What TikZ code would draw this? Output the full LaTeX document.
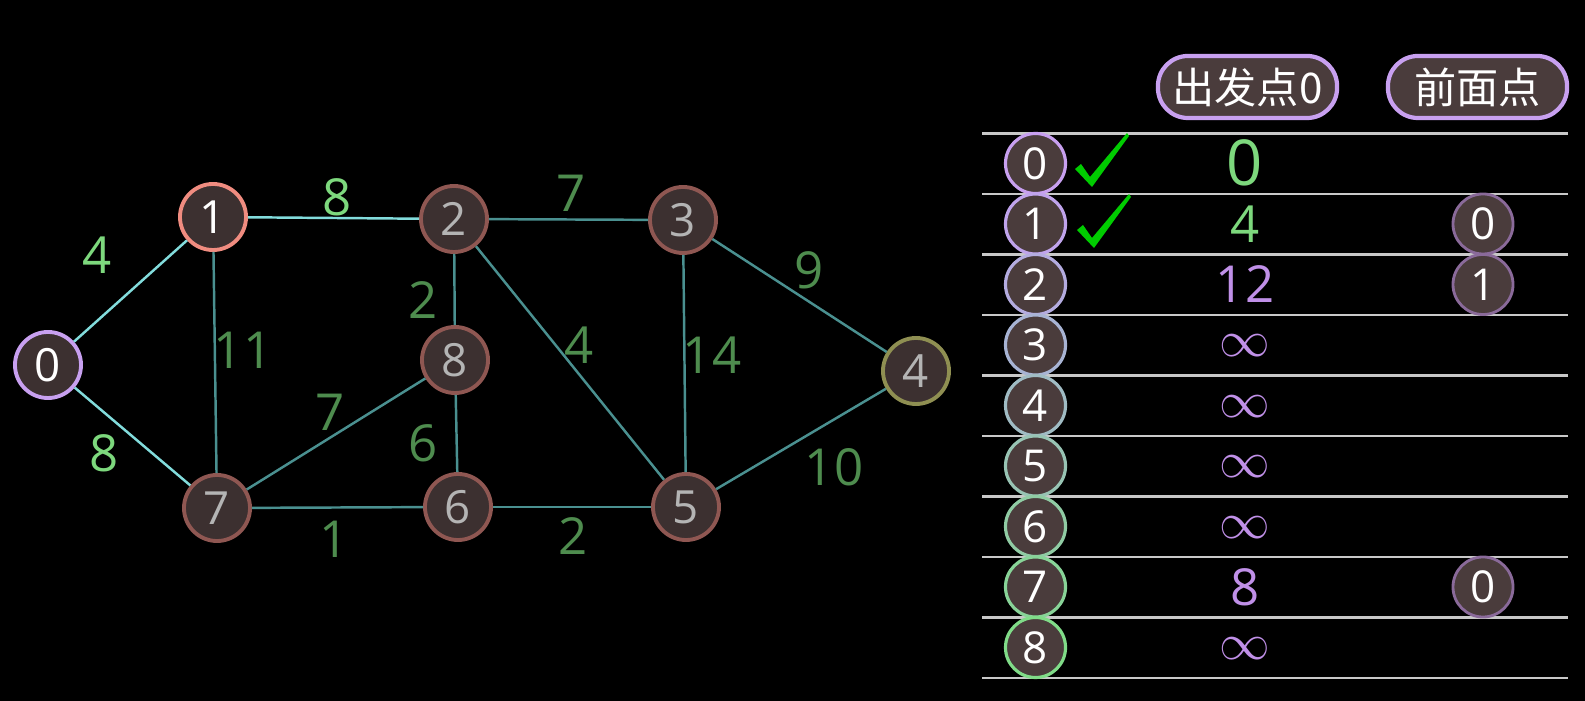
\documentclass[tikz,border=0pt]{standalone}
\usepackage{fontspec}
\setmainfont{Open Sans}
\newfontfamily\cjk{Noto Sans CJK SC}

\definecolor{nodefill}{HTML}{3C3030}
\definecolor{rowfill}{HTML}{4A3C3C}
\definecolor{nodeedge}{HTML}{8F5752}
\definecolor{startedge}{HTML}{C8A0F0}
\definecolor{curedge}{HTML}{F08C80}
\definecolor{faredge}{HTML}{8F8F52}
\definecolor{greytext}{HTML}{B4B4B4}
\definecolor{edgedim}{HTML}{4A9090}
\definecolor{edgelit}{HTML}{82DCDC}
\definecolor{labdim}{HTML}{4E8C4E}
\definecolor{lablit}{HTML}{7DD87D}
\definecolor{rule}{HTML}{C8C8C8}
\definecolor{tick}{HTML}{00CC00}
\definecolor{distpurple}{HTML}{C090E8}
\definecolor{prededge}{HTML}{8A6A9A}

\begin{document}
\begin{tikzpicture}[x=0.01cm,y=-0.01cm,
  vertex/.style={circle,draw=nodeedge,fill=nodefill,line width=1.1pt,minimum size=0.66cm,
    inner sep=0pt,text=greytext,font=\fontsize{13}{13}\selectfont},
  edge/.style={draw=edgedim,line width=0.7pt},
  edgelitstyle/.style={draw=edgelit,line width=0.7pt},
  wlab/.style={text=labdim,font=\fontsize{14.5}{14.5}\selectfont},
  wlablit/.style={wlab,text=lablit},
  rowid/.style={circle,fill=rowfill,line width=0.9pt,minimum size=0.6cm,inner sep=0pt,
    text=white,font=\fontsize{12.5}{12.5}\selectfont},
  dist/.style={text=distpurple,inner sep=1pt,font=\fontsize{14.5}{14.5}\selectfont},
  distlit/.style={text=lablit,inner sep=1pt,font=\fontsize{14.5}{14.5}\selectfont},
  inftext/.style={text=distpurple,inner sep=0pt,font=\fontsize{14.5}{14.5}\selectfont},
  pred/.style={circle,draw=prededge,fill=rowfill,line width=0.8pt,minimum size=0.6cm,
    inner sep=0pt,text=white,font=\fontsize{12.5}{12.5}\selectfont},
  pill/.style={draw=startedge,fill=rowfill,line width=1.2pt,rounded corners=0.3cm,
    minimum width=1.79cm,minimum height=0.62cm,inner sep=0pt,text=white,
    font=\cjk\fontsize{12}{12}\selectfont},
  tablerule/.style={draw=rule,line width=0.8pt}]

\fill[black] (0,0) rectangle (1585,701);

% graph
\node[vertex,draw=startedge,text=white] (v0) at (48,365) {0};
\node[vertex,draw=curedge,text=white] (v1) at (213,217) {1};
\node[vertex] (v2) at (454,219) {2};
\node[vertex] (v3) at (683,220) {3};
\node[vertex,draw=faredge] (v4) at (916,371) {4};
\node[vertex] (v5) at (686,507) {5};
\node[vertex] (v6) at (458,507) {6};
\node[vertex] (v7) at (217,508) {7};
\node[vertex] (v8) at (455,360) {8};

\draw[edgelitstyle] (v0) -- (v1);
\draw[edgelitstyle] (v0) -- (v7);
\draw[edgelitstyle] (v1) -- (v2);
\draw[edge] (v1) -- (v7);
\draw[edge] (v2) -- (v3);
\draw[edge] (v2) -- (v8);
\draw[edge] (v2) -- (v5);
\draw[edge] (v3) -- (v5);
\draw[edge] (v3) -- (v4);
\draw[edge] (v4) -- (v5);
\draw[edge] (v7) -- (v8);
\draw[edge] (v8) -- (v6);
\draw[edge] (v7) -- (v6);
\draw[edge] (v6) -- (v5);

\node[wlablit] (w01) at (97,255) {4};
\node[wlablit] (w07) at (104,453) {8};
\node[wlablit] (w12) at (337,197) {8};
\node[wlab] (w17) at (243,350) {11};
\node[wlab] (w23) at (571,193) {7};
\node[wlab] (w28) at (423,300) {2};
\node[wlab] (w78) at (330,412) {7};
\node[wlab] (w86) at (423,443) {6};
\node[wlab] (w25) at (579,345) {4};
\node[wlab] (w35) at (712,355) {14};
\node[wlab] (w34) at (809,270) {9};
\node[wlab] (w45) at (834,467) {10};
\node[wlab] (w76) at (334,539) {1};
\node[wlab] (w65) at (573,536) {2};

% table
\node[pill] (hdist) at (1247.5,87) {出发点0};
\node[pill] (hpred) at (1477.5,87) {前面点};

\foreach \k in {0,...,9}
  \draw[tablerule] (982,133.5+60.5*\k) -- (1568,133.5+60.5*\k);

\node[rowid,draw=startedge] (r0) at (1035.5,163.5) {0};
\node[rowid,draw={rgb,255:red,192;green,164;blue,236}] (r1) at (1035.5,224) {1};
\node[rowid,draw={rgb,255:red,180;green,172;blue,224}] (r2) at (1035.5,284.5) {2};
\node[rowid,draw={rgb,255:red,168;green,180;blue,212}] (r3) at (1035.5,345) {3};
\node[rowid,draw={rgb,255:red,160;green,188;blue,196}] (r4) at (1035.5,405.5) {4};
\node[rowid,draw={rgb,255:red,152;green,196;blue,180}] (r5) at (1035.5,466) {5};
\node[rowid,draw={rgb,255:red,144;green,204;blue,164}] (r6) at (1035.5,526.5) {6};
\node[rowid,draw={rgb,255:red,136;green,212;blue,152}] (r7) at (1035.5,587) {7};
\node[rowid,draw={rgb,255:red,128;green,220;blue,136}] (r8) at (1035.5,647.5) {8};

\fill[tick] (1075,169) -- (1081,164) -- (1090,177) -- (1127,133) -- (1129,136) -- (1092,187) -- cycle;
\fill[tick] (1077,230) -- (1083,225) -- (1092,238) -- (1129,194) -- (1131,197) -- (1094,248) -- cycle;

\node[distlit,font=\fontsize{18}{18}\selectfont] (d0) at (1245,163) {0};
\node[distlit] (d1) at (1245,224) {4};
\node[dist] (d2) at (1245,284.5) {12};
\node[inftext] (d3) at (1245,346) {$\infty$};
\node[inftext] (d4) at (1245,406.5) {$\infty$};
\node[inftext] (d5) at (1245,467) {$\infty$};
\node[inftext] (d6) at (1245,527.5) {$\infty$};
\node[dist] (d7) at (1245,587) {8};
\node[inftext] (d8) at (1245,648.5) {$\infty$};

\node[pred] (p1) at (1483,224) {0};
\node[pred] (p2) at (1483,284.5) {1};
\node[pred] (p7) at (1483,587) {0};
\end{tikzpicture}
\end{document}
